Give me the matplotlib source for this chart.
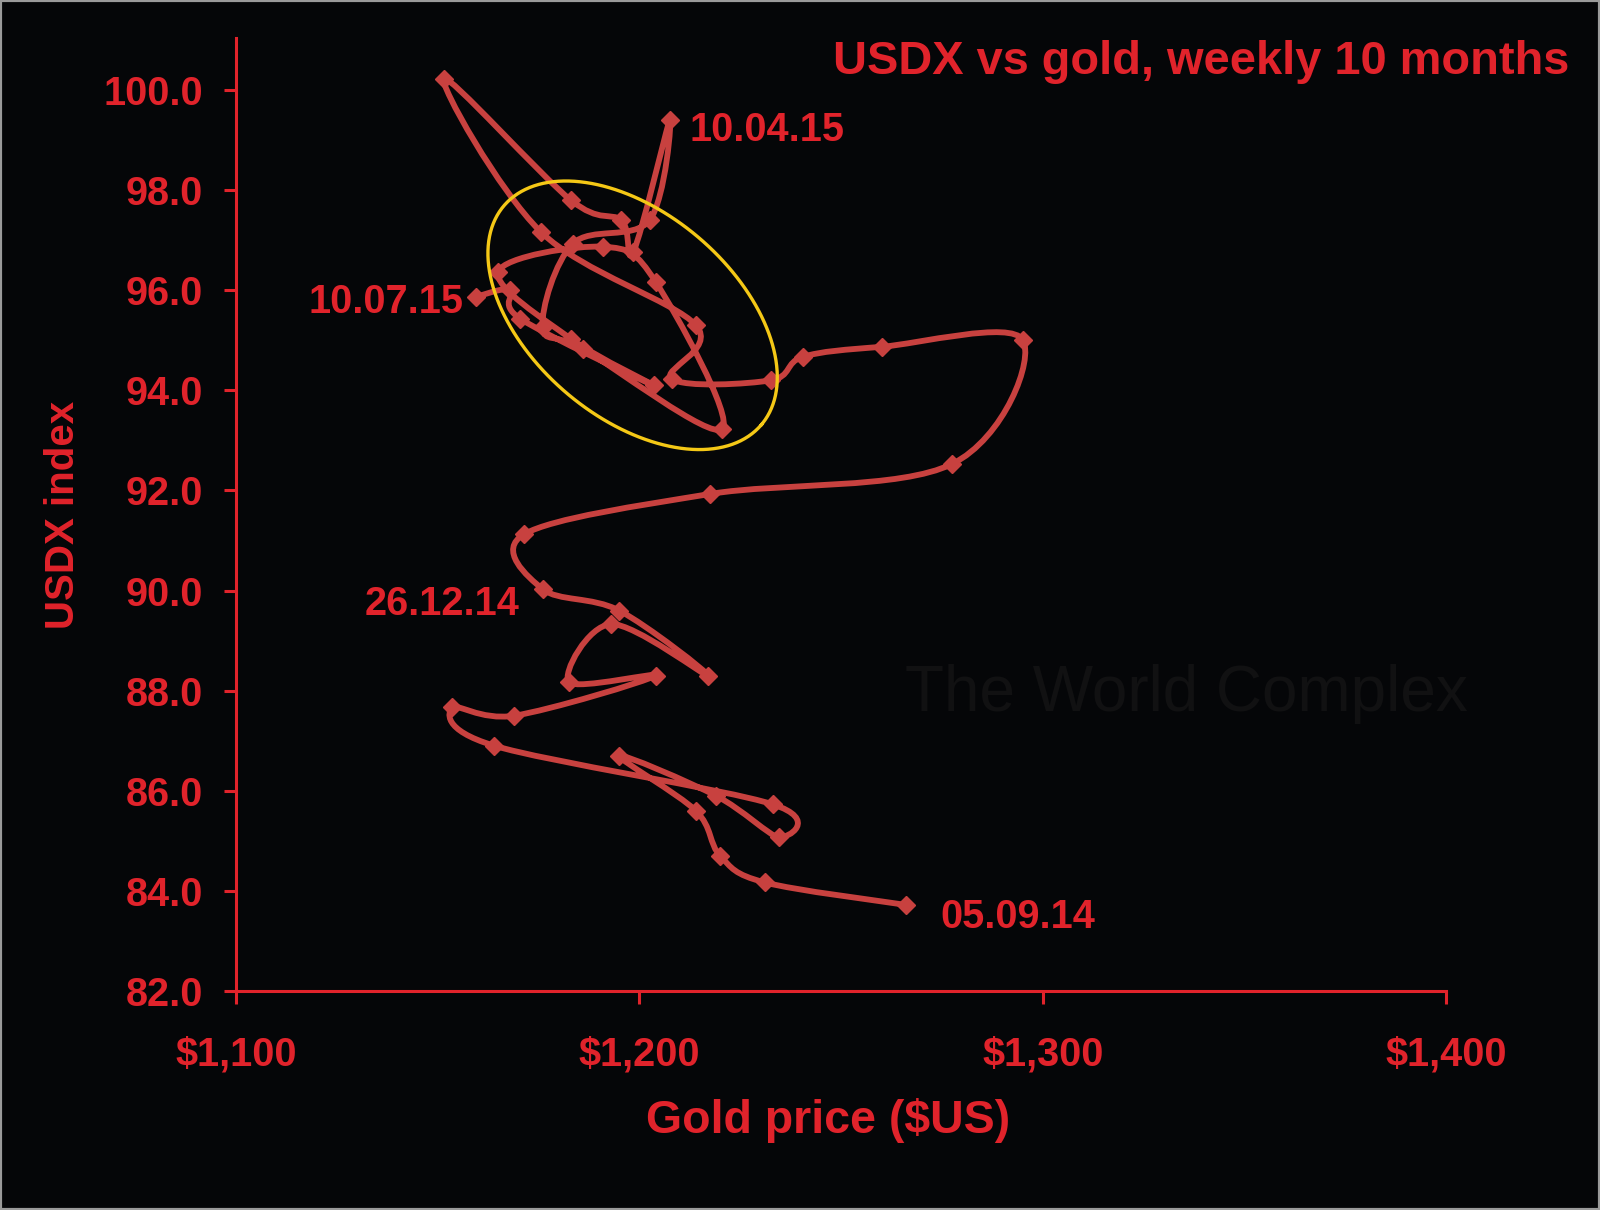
import numpy as np
import matplotlib
matplotlib.use('Agg')
import matplotlib.pyplot as plt
from matplotlib.patches import Rectangle, PathPatch
from matplotlib.path import Path

plt.rcParams['font.family'] = ['Liberation Sans', 'DejaVu Sans']

# weekly points, 05.09.14 -> 10.07.15
gold = [1266, 1231, 1220, 1214, 1195, 1219, 1234.5, 1233, 1164, 1153.5,
        1169, 1204, 1182.5, 1193, 1217, 1195, 1176, 1171.5, 1217.5, 1277.5,
        1295, 1260, 1240.5, 1232.5, 1208, 1214, 1175.5, 1151.5, 1183, 1195.5,
        1198.5, 1207.5, 1202.5, 1183.5, 1176, 1186, 1220.5, 1204, 1191, 1165,
        1183, 1203.5, 1170.5, 1168, 1159.5]
usdx = [83.72, 84.17, 84.7, 85.6, 86.7, 85.9, 85.07, 85.73, 86.9, 87.67,
        87.5, 88.3, 88.17, 89.33, 88.3, 89.6, 90.03, 91.13, 91.93, 92.53,
        95.01, 94.87, 94.67, 94.2, 94.23, 95.3, 97.17, 100.23, 97.8, 97.4,
        96.77, 99.4, 97.4, 96.93, 95.27, 94.83, 93.23, 96.17, 96.87, 96.37,
        95.03, 94.1, 95.43, 96.0, 95.87]

# labelled weeks: index into the series, text offset (points), alignment
date_labels = ['05.09.14', '26.12.14', '10.04.15', '10.07.15']
date_index = [0, 16, 31, 44]
label_offset = [(25, -9), (-17, -11), (14, -7), (-9, -4)]
label_ha = ['left', 'right', 'left', 'right']

xticks = [1100, 1200, 1300, 1400]
yticks = [82, 84, 86, 88, 90, 92, 94, 96, 98, 100]

bg = '#050608'
red_txt = '#E1232B'
red_line = '#C8413F'

fig = plt.figure(figsize=(16, 12.1), dpi=100, facecolor=bg)
fig.patches.append(Rectangle((0, 0), 1, 1, transform=fig.transFigure,
                             facecolor='none', edgecolor='#9a9a9a',
                             linewidth=3, zorder=10))
ax = fig.add_axes([0.1475, 0.181, 0.7565, 0.7876])
ax.set_facecolor(bg)

# smoothed line like the spreadsheet's "smooth line" option (bezier path)
P = np.column_stack([gold, usdx])
Pp = np.vstack([P[0], P, P[-1]])
verts = [P[0]]
codes = [Path.MOVETO]
for i in range(len(P) - 1):
    p0, p1, p2, p3 = Pp[i], Pp[i + 1], Pp[i + 2], Pp[i + 3]
    verts += [p1 + (p2 - p0) / 6.0, p2 - (p3 - p1) / 6.0, p2]
    codes += [Path.CURVE4] * 3
ax.add_patch(PathPatch(Path(verts, codes), facecolor='none',
                       edgecolor=red_line, linewidth=4.2,
                       joinstyle='round', capstyle='round', zorder=3))
ax.plot(gold, usdx, linestyle='none', marker='D', markersize=9.5,
        markerfacecolor=red_line, markeredgecolor=red_line, zorder=3)

for lab, i, off, ha in zip(date_labels, date_index, label_offset, label_ha):
    ax.annotate(lab, (gold[i], usdx[i]), xytext=off, textcoords='offset points',
                ha=ha, va='center', color=red_txt, fontsize=28.5,
                fontweight='bold')

ax.set_xlim(1100, 1400)
ax.set_ylim(82, 101.04)
ax.set_xticks(xticks)
ax.set_yticks(yticks)
ax.set_xticklabels(['$%s' % format(v, ',') for v in xticks])
ax.set_yticklabels(['%.1f' % v for v in yticks])

for s in ['top', 'right']:
    ax.spines[s].set_visible(False)
for s in ['left', 'bottom']:
    ax.spines[s].set_color(red_txt)
    ax.spines[s].set_linewidth(2.2)
ax.tick_params(axis='both', colors=red_txt, direction='out', length=9,
               width=2.2, labelsize=28.5)
ax.tick_params(axis='y', pad=15)
ax.tick_params(axis='x', pad=23)
for t in ax.get_xticklabels() + ax.get_yticklabels():
    t.set_fontweight('bold')

ax.set_xlabel('Gold price ($US)', color=red_txt, fontsize=33.5,
              fontweight='bold', labelpad=18)
ax.xaxis.label.set_x(0.489)
ax.set_ylabel('USDX index', color=red_txt, fontsize=29,
              fontweight='bold', labelpad=15)

fig.text(0.981, 0.9486, 'USDX vs gold, weekly 10 months', ha='right',
         va='center', color=red_txt, fontsize=33.8, fontweight='bold')

# faint watermark
ax.text(1335.5, 87.93, 'The World Complex', ha='center', va='center',
        color='#111112', fontsize=46, zorder=1)

# yellow highlight ellipse, sized in pixels
pos = ax.get_position()
px_x = pos.width * 1600 / 300.0
px_y = pos.height * 1210 / (101.04 - 82)
cx, cy = 1198.3, 95.5
a, b, phi = 169, 102, np.radians(40.4)
t = np.linspace(0, 2 * np.pi, 300)
ex = cx + (a * np.cos(t) * np.cos(phi) - b * np.sin(t) * np.sin(phi)) / px_x
ey = cy - (a * np.cos(t) * np.sin(phi) + b * np.sin(t) * np.cos(phi)) / px_y
ax.plot(ex, ey, color='#F5C816', linewidth=2.4, zorder=4)

fig.savefig('out.png', dpi=100, facecolor=bg)
